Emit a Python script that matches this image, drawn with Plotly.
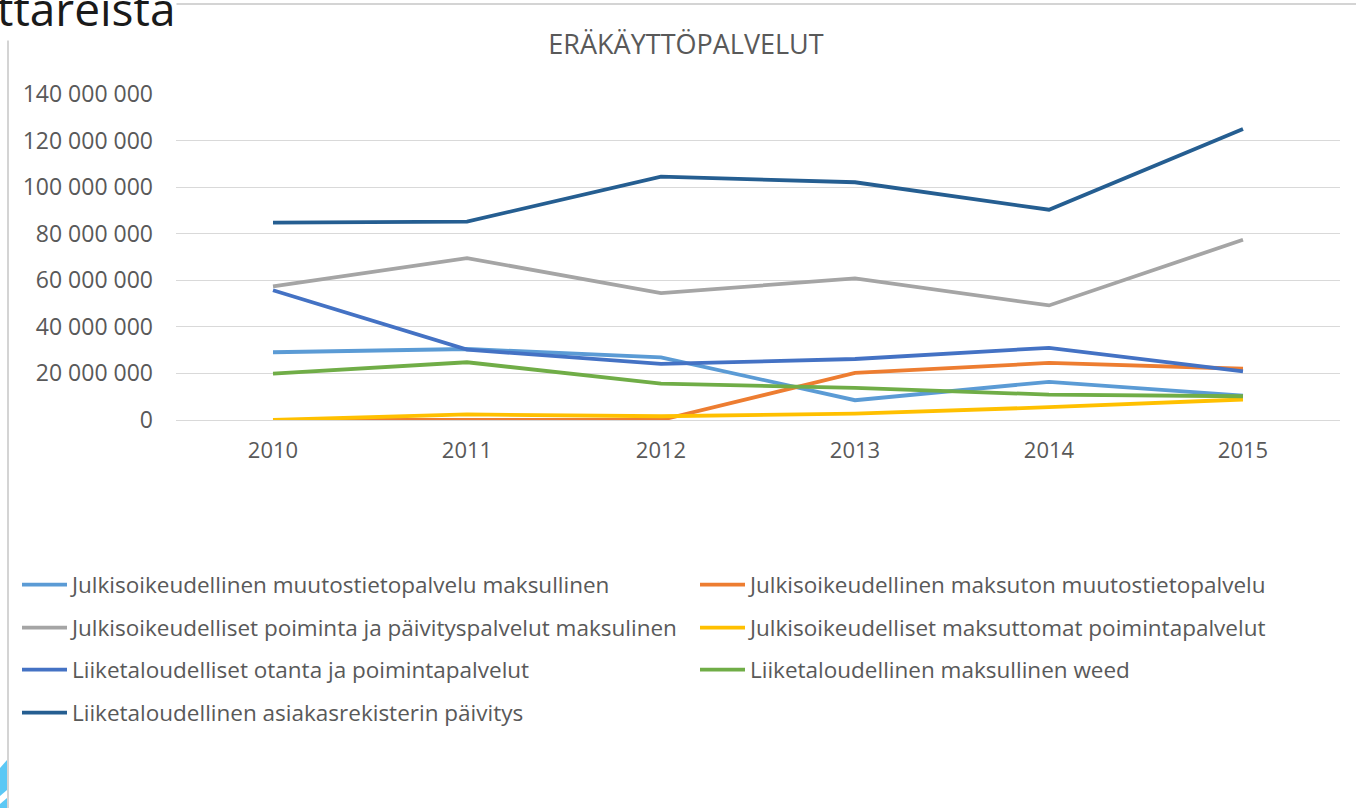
import plotly.graph_objects as go

years = ["2010", "2011", "2012", "2013", "2014", "2015"]

series_names = [
    "Julkisoikeudellinen muutostietopalvelu maksullinen",
    "Julkisoikeudellinen maksuton muutostietopalvelu",
    "Julkisoikeudelliset poiminta ja päivityspalvelut maksulinen",
    "Julkisoikeudelliset maksuttomat poimintapalvelut",
    "Liiketaloudelliset otanta ja poimintapalvelut",
    "Liiketaloudellinen maksullinen weed",
    "Liiketaloudellinen asiakasrekisterin päivitys",
]

muutostieto_maksullinen = [29.1e6, 30.5e6, 26.9e6, 8.5e6, 16.4e6, 10.5e6]
muutostieto_maksuton = [0, 0, 0, 20.2e6, 24.5e6, 22.0e6]
poiminta_paivitys_maksullinen = [57.4e6, 69.5e6, 54.5e6, 60.8e6, 49.2e6, 77.4e6]
poiminta_maksuton = [0, 2.4e6, 1.6e6, 2.7e6, 5.5e6, 8.8e6]
otanta_poiminta = [55.7e6, 30.2e6, 24.1e6, 26.2e6, 31.0e6, 20.9e6]
weed = [19.9e6, 24.8e6, 15.6e6, 13.8e6, 10.9e6, 10.2e6]
asiakasrekisteri = [84.8e6, 85.2e6, 104.5e6, 102.1e6, 90.3e6, 125.0e6]

series_values = [
    muutostieto_maksullinen, muutostieto_maksuton, poiminta_paivitys_maksullinen,
    poiminta_maksuton, otanta_poiminta, weed, asiakasrekisteri,
]
colors = ["#5B9BD5", "#ED7D31", "#A5A5A5", "#FFC000", "#4472C4", "#70AD47", "#255E91"]

y_ticks = [0, 20e6, 40e6, 60e6, 80e6, 100e6, 120e6, 140e6]

W, H = 1356, 808
L, R, T, B = 176, 16, 94, 388
PW, PH = W - L - R, H - T - B

FONT = "Open Sans"
TXT = "#595959"

fig = go.Figure()
legend_names = ["legend", "legend2", "legend3", "legend4", "legend5", "legend6", "legend7"]
for i, (name, vals, col) in enumerate(zip(series_names, series_values, colors)):
    fig.add_trace(go.Scatter(
        x=years, y=vals, name=name, mode="lines",
        line=dict(color=col, width=3.8),
        legend=legend_names[i],
    ))

# legend positions (pixel coordinates of row centers / column starts)
row_y = [585, 585, 628, 628, 670, 670, 713]
col_x = [17, 695, 17, 695, 17, 695, 17]

layout_legends = {}
for i, ln in enumerate(legend_names):
    layout_legends[ln] = dict(
        x=(col_x[i] - L) / PW, y=(H - B - row_y[i]) / PH,
        xanchor="left", yanchor="middle", orientation="h",
        font=dict(family=FONT, size=22.5, color=TXT),
        bgcolor="rgba(0,0,0,0)", itemwidth=45,
    )

fig.update_layout(
    width=W, height=H,
    margin=dict(l=L, r=R, t=T, b=B, pad=0),
    paper_bgcolor="white", plot_bgcolor="white",
    separators=", ",
    title=dict(
        text="ERÄKÄYTTÖPALVELUT", x=686 / W, y=1 - 45 / H,
        xanchor="center", yanchor="middle", xref="container", yref="container",
        font=dict(family=FONT, size=27, color=TXT),
    ),
    xaxis=dict(
        type="category", range=[-0.5, 5.5], showgrid=False, zeroline=False,
        showline=False, ticks="", tickfont=dict(family=FONT, size=22, color=TXT),
        ticklabelstandoff=15,
    ),
    yaxis=dict(
        range=[0, 140e6], tickvals=y_ticks, tickformat=",d",
        showgrid=True, gridcolor="#d9d9d9", gridwidth=1,
        zeroline=True, zerolinecolor="#d9d9d9", zerolinewidth=1,
        showline=False, ticks="", tickfont=dict(family=FONT, size=23, color=TXT),
        ticklabelstandoff=22,
    ),
    showlegend=True,
    **layout_legends,
)

# screenshot surroundings: borders, partial heading, decoration
fig.add_shape(type="line", xref="paper", yref="paper",
              x0=(8 - L) / PW, x1=(8 - L) / PW, y0=(H - B - 0) / PH, y1=(H - B - H) / PH,
              line=dict(color="#d4d4d4", width=2), layer="below")
fig.add_shape(type="line", xref="paper", yref="paper",
              x0=(173 - L) / PW, x1=(W - L) / PW, y0=(H - B - 4) / PH, y1=(H - B - 4) / PH,
              line=dict(color="#d4d4d4", width=2), layer="below")
fig.add_shape(type="path", xref="paper", yref="paper",
              path="M {a},{b} L {c},{d} L {c},{e} L {a},{f} Z".format(
                  a=(0 - L) / PW, c=(7 - L) / PW,
                  b=(H - B - 768) / PH, d=(H - B - 760) / PH,
                  e=(H - B - 790) / PH, f=(H - B - 796) / PH),
              fillcolor="#5BC8F5", line=dict(width=0), layer="below")
fig.add_shape(type="path", xref="paper", yref="paper",
              path="M {a},{b} L {c},{d} L {c},{e} L {a},{e} Z".format(
                  a=(0 - L) / PW, c=(7 - L) / PW,
                  b=(H - B - 804) / PH, d=(H - B - 798) / PH,
                  e=(H - B - 808) / PH),
              fillcolor="#5BC8F5", line=dict(width=0), layer="below")
fig.add_annotation(text="ttareista", xref="paper", yref="paper",
                   x=(177 - L) / PW, y=(H - B - 8) / PH, xanchor="right", yanchor="middle",
                   showarrow=False, bgcolor="white",
                   font=dict(family=FONT, size=46, color="#1a1a1a"))

fig.write_html("out.html")
